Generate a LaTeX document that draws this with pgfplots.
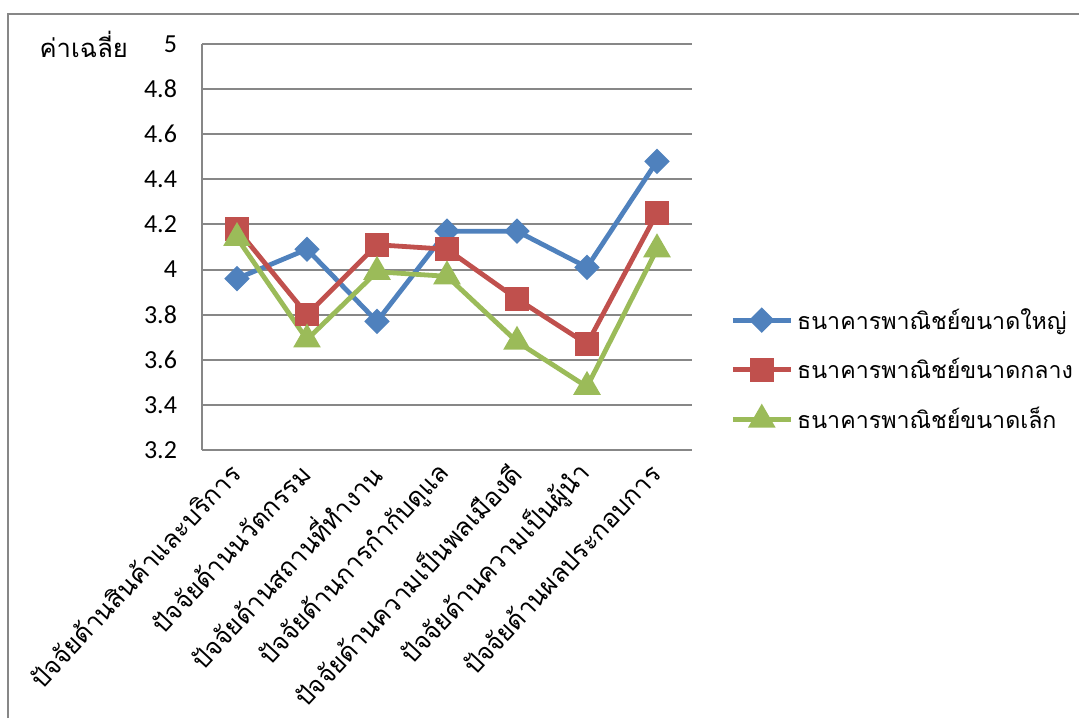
\documentclass[border=0pt]{standalone}
\usepackage{pgfplots}
\pgfplotsset{compat=1.18}
\usepackage{fontspec}
\setmainfont{Carlito}
\newfontfamily\thaifont[Script=Thai]{Loma}
\definecolor{sBlue}{HTML}{4F81BD}
\definecolor{sRed}{HTML}{C0504D}
\definecolor{sGreen}{HTML}{9BBB59}
\definecolor{gridGray}{HTML}{878787}
\begin{document}
\begin{tikzpicture}
\useasboundingbox (0pt,0pt) rectangle (539.5pt,359pt);
\draw[gridGray, line width=1pt] (4pt,0pt) -- (4pt,352pt) -- (539.5pt,352pt);
\begin{axis}[
  at={(101pt,134pt)}, anchor=south west,
  scale only axis, width=245pt, height=203pt,
  xmin=-0.5, xmax=6.5, ymin=3.2, ymax=5,
  axis x line=bottom, axis y line=left,
  axis line style={gridGray, line width=1pt, -},
  ytick={3.2,3.4,3.6,3.8,4,4.2,4.4,4.6,4.8,5},
  yticklabels={3.2,3.4,3.6,3.8,4,4.2,4.4,4.6,4.8,5},
  ymajorgrids, grid style={gridGray, line width=1pt},
  major tick length=0pt,
  xtick={0,...,6},
  xticklabels={
    ปัจจัยด้านสินค้าและบริการ,
    ปัจจัยด้านนวัตกรรม,
    ปัจจัยด้านสถานที่ทำงาน,
    ปัจจัยด้านการกำกับดูแล,
    ปัจจัยด้านความเป็นพลเมืองดี,
    ปัจจัยด้านความเป็นผู้นำ,
    ปัจจัยด้านผลประกอบการ},
  xticklabel style={font=\thaifont\fontsize{12.8}{14}\selectfont, rotate=47, anchor=east, xshift=-4pt, yshift=-5.5pt},
  yticklabel style={font=\fontsize{13}{15}\selectfont, xshift=-9pt},
  ylabel={ค่าเฉลี่ย},
  ylabel style={font=\thaifont\fontsize{12.8}{14}\selectfont, rotate=-90, at={(axis description cs:0,1)}, anchor=east, xshift=-33.5pt},
  legend style={draw=none, fill=none, at={(1,0.197)}, anchor=west, xshift=19pt,
    font=\thaifont\fontsize{11.6}{13}\selectfont, row sep=9pt,
    legend cell align=left, inner sep=0pt},
  legend image code/.code={\draw[mark repeat=2,mark phase=2,#1] plot coordinates {(0pt,0pt)(14.5pt,0pt)(29pt,0pt)};},
  every axis plot/.append style={line width=2.4pt},
  clip=false,
]
\addplot[sBlue, mark=square*, mark size=3.3pt, mark options={rotate=45, draw=none, fill=sBlue}]
  coordinates {(0,3.96)(1,4.09)(2,3.77)(3,4.17)(4,4.17)(5,4.01)(6,4.48)};
\addlegendentry{ธนาคารพาณิชย์ขนาดใหญ่}
\addplot[sRed, mark=square*, mark size=4.7pt, mark options={draw=none, fill=sRed}]
  coordinates {(0,4.18)(1,3.80)(2,4.11)(3,4.09)(4,3.87)(5,3.67)(6,4.25)};
\addlegendentry{ธนาคารพาณิชย์ขนาดกลาง}
\addplot[sGreen, mark=triangle*, mark size=5.6pt, mark options={draw=none, fill=sGreen}]
  coordinates {(0,4.14)(1,3.69)(2,3.99)(3,3.97)(4,3.68)(5,3.48)(6,4.09)};
\addlegendentry{ธนาคารพาณิชย์ขนาดเล็ก}
\end{axis}
\end{tikzpicture}
\end{document}
